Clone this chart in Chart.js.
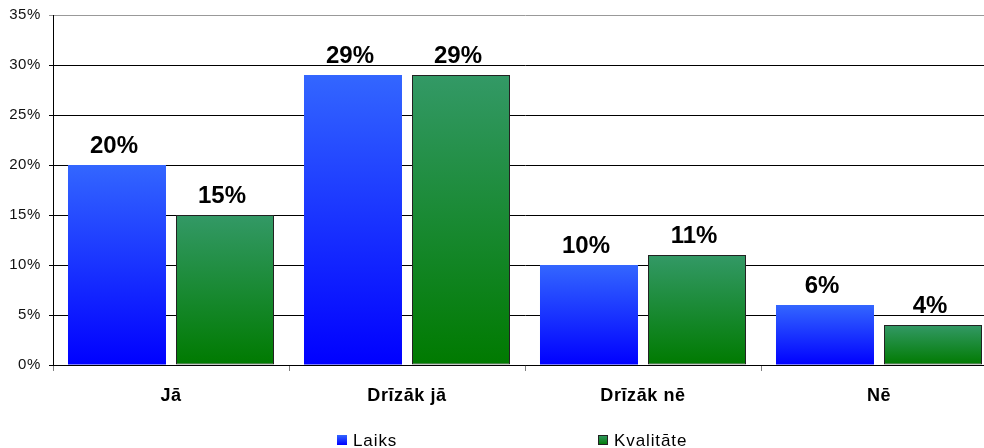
<!DOCTYPE html>
<html>
<head>
<meta charset="utf-8">
<script src="https://cdn.jsdelivr.net/npm/chart.js@4.4.0/dist/chart.umd.min.js"></script>
<style>
  html, body { margin: 0; padding: 0; background: #fff; }
  #wrap { width: 984px; height: 448px; overflow: hidden; position: relative; }
  #wrap canvas { position: absolute; left: 0; top: 0; }
</style>
</head>
<body>
<div id="wrap"><canvas id="canvas-1" width="1000" height="460"></canvas></div>
<script>
var categories = ['Jā', 'Drīzāk jā', 'Drīzāk nē', 'Nē'];
var laiks = [20, 29, 10, 6];
var kvalitate = [15, 29, 11, 4];
var yTicks = [0, 5, 10, 15, 20, 25, 30, 35];

var FONT = "'Liberation Sans', Arial, sans-serif";
Chart.defaults.font.family = FONT;
Chart.defaults.color = '#000';

var blueTop = '#3366ff', blueBottom = '#0000ff';
var greenTop = '#339966', greenBottom = '#007a00';
var greenEdge = '#222222';

// vertical gradient from top of each bar down to the zero line
function barGradient(top, bottom) {
  return function(ctx) {
    var chart = ctx.chart;
    var y = chart.scales.y;
    if (!y || !chart.chartArea || ctx.parsed === undefined) return top;
    var y0 = y.getPixelForValue(ctx.parsed.y);
    var y1 = y.getPixelForValue(0);
    if (!isFinite(y0) || !isFinite(y1) || y0 === y1) return top;
    var g = chart.ctx.createLinearGradient(0, y0, 0, y1);
    g.addColorStop(0, top);
    g.addColorStop(1, bottom);
    return g;
  };
}

// the original text is a bit wider than Liberation Sans
var wideText = {
  id: 'wideText',
  beforeDraw: function(chart) { chart.ctx.letterSpacing = '0.6px'; }
};

// bold % labels above the bars
var valueLabels = {
  id: 'valueLabels',
  afterDatasetsDraw: function(chart) {
    var c = chart.ctx;
    c.save();
    c.letterSpacing = '0px';
    c.font = 'bold 24px ' + FONT;
    c.fillStyle = '#000';
    c.textAlign = 'center';
    c.textBaseline = 'alphabetic';
    chart.data.datasets.forEach(function(ds, i) {
      chart.getDatasetMeta(i).data.forEach(function(bar, j) {
        c.fillText(ds.data[j] + '%', bar.x - 3, bar.y - 12);
      });
    });
    c.restore();
  }
};

// Excel style legend below the axis
var bottomLegend = {
  id: 'bottomLegend',
  afterDraw: function(chart) {
    var c = chart.ctx;
    var items = [
      { text: 'Laiks', top: blueTop, bottom: blueBottom, border: null, x: 337 },
      { text: 'Kvalitāte', top: greenTop, bottom: greenBottom, border: greenEdge, x: 598 }
    ];
    c.save();
    c.font = '17px ' + FONT;
    c.letterSpacing = '0.9px';
    c.textBaseline = 'alphabetic';
    c.textAlign = 'left';
    items.forEach(function(it) {
      var g = c.createLinearGradient(0, 435, 0, 445);
      g.addColorStop(0, it.top);
      g.addColorStop(1, it.bottom);
      c.fillStyle = g;
      c.fillRect(it.x, 435, 10, 10);
      if (it.border) {
        c.strokeStyle = it.border;
        c.lineWidth = 1;
        c.strokeRect(it.x + 0.5, 435.5, 9, 9);
      }
      c.fillStyle = '#000';
      c.fillText(it.text, it.x + 16, 446);
    });
    c.restore();
  }
};

var ctx = document.getElementById('canvas-1');
var chart = new Chart(ctx, {
  type: 'bar',
  data: {
    labels: categories,
    datasets: [
      {
        label: 'Laiks',
        data: laiks,
        backgroundColor: barGradient(blueTop, blueBottom),
        borderWidth: 0,
        categoryPercentage: 0.9153,
        barPercentage: 0.9074
      },
      {
        label: 'Kvalitāte',
        data: kvalitate,
        backgroundColor: barGradient(greenTop, greenBottom),
        borderColor: greenEdge,
        borderWidth: 1,
        borderSkipped: false,
        categoryPercentage: 0.9153,
        barPercentage: 0.9074
      }
    ]
  },
  options: {
    responsive: false,
    animation: false,
    layout: { padding: { top: 15, right: 3, left: 0, bottom: 0 } },
    plugins: {
      legend: { display: false },
      tooltip: { enabled: false }
    },
    scales: {
      x: {
        grid: {
          display: true,
          drawOnChartArea: false,
          drawTicks: true,
          tickLength: 6,
          color: '#808080',
          offset: true
        },
        border: { display: true, color: '#000', width: 1 },
        ticks: {
          font: { size: 18, weight: 'bold' },
          color: '#000',
          padding: 14,
          maxRotation: 0
        },
        afterFit: function(scale) { scale.height = 95; }
      },
      y: {
        min: 0,
        max: 35,
        afterBuildTicks: function(scale) {
          scale.ticks = yTicks.map(function(v) { return { value: v }; });
        },
        grid: {
          color: function(c) { return c.tick && c.tick.value === 35 ? '#999999' : '#000'; },
          lineWidth: 1,
          drawTicks: true,
          tickLength: 4
        },
        border: { display: true, color: '#000', width: 1 },
        ticks: {
          font: { size: 15 },
          color: '#111',
          padding: 8,
          callback: function(v) { return v + '%'; }
        },
        afterFit: function(scale) {
          scale.width = 53;
          scale.paddingTop = 0;
          scale.paddingBottom = 0;
        }
      }
    }
  },
  plugins: [wideText, valueLabels, bottomLegend]
});
</script>
</body>
</html>
